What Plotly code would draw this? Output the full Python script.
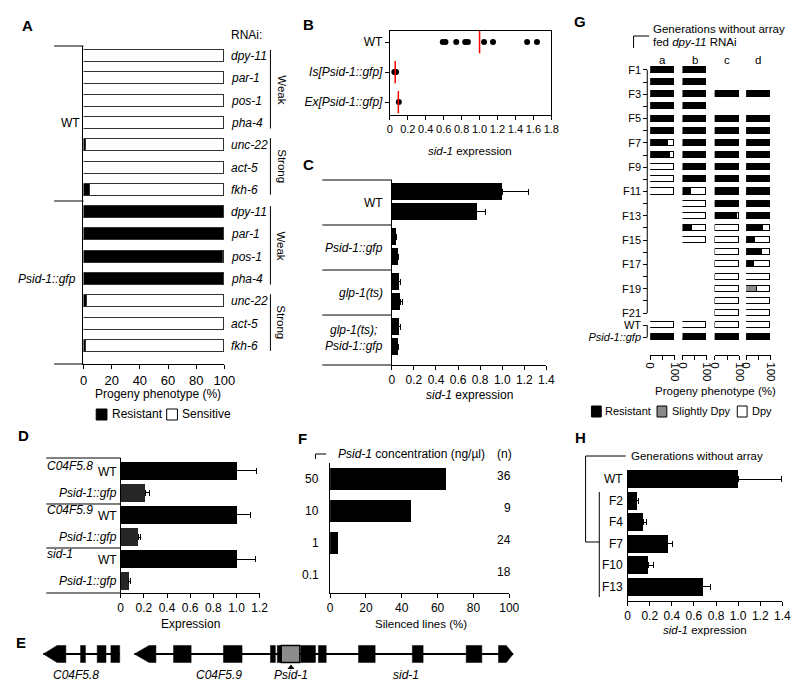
import plotly.graph_objects as go

W, H = 800, 683
def fx(px): return px / W
def fy(py): return 1 - py / H

FONT = "Liberation Sans, Arial, Helvetica, sans-serif"
FS = 11.5

# ---------------- DATA ----------------
# Panel A: progeny phenotype (%)
a_rnai = ["dpy-11", "par-1", "pos-1", "pha-4", "unc-22", "act-5", "fkh-6"]
a_strains = ["WT", "Psid-1::gfp"]
a_resistant_wt = [0, 0, 0, 0, 2, 0, 5]
a_sensitive_wt = [100, 100, 100, 100, 98, 100, 95]
a_resistant_gfp = [100, 100, 99, 100, 2.5, 0, 2]
a_sensitive_gfp = [0, 0, 1, 0, 97.5, 100, 98]
a_ticks = [0, 20, 40, 60, 80, 100]

# Panel B: sid-1 expression, individual points
b_strains = ["WT", "<i>Is[Psid-1::gfp]</i>", "<i>Ex[Psid-1::gfp]</i>"]
b_wt = [0.59, 0.62, 0.74, 0.84, 0.87, 1.05, 1.15, 1.53, 1.64]
b_is = [0.05, 0.07]
b_ex = [0.10]
b_means = [1.0, 0.06, 0.095]
b_ticks = [0, 0.2, 0.4, 0.6, 0.8, 1.0, 1.2, 1.4, 1.6, 1.8]
b_ticklabels = ["0", "0.2", "0.4", "0.6", "0.8", "1.0", "1.2", "1.4", "1.6", "1.8"]

# Panel C
c_groups = ["WT", "<i>Psid-1::gfp</i>", "<i>glp-1(ts)</i>", "<i>glp-1(ts);</i><br><i>Psid-1::gfp</i>"]
c_rep1 = [1.0, 0.04, 0.065, 0.065]
c_rep1_err = [0.24, 0.006, 0.012, 0.01]
c_rep2 = [0.77, 0.05, 0.075, 0.05]
c_rep2_err = [0.08, 0.01, 0.02, 0.012]
c_ticks = [0, 0.2, 0.4, 0.6, 0.8, 1.0, 1.2, 1.4]
c_ticklabels = ["0", "0.2", "0.4", "0.6", "0.8", "1.0", "1.2", "1.4"]

# Panel D
d_genes = ["C04F5.8", "C04F5.9", "sid-1"]
d_wt = [1.0, 1.0, 1.0]
d_wt_err = [0.17, 0.12, 0.16]
d_gfp = [0.21, 0.15, 0.07]
d_gfp_err = [0.035, 0.02, 0.015]
d_ticks = [0, 0.2, 0.4, 0.6, 0.8, 1.0, 1.2]
d_ticklabels = ["0", "0.2", "0.4", "0.6", "0.8", "1.0", "1.2"]

# Panel E: gene model (kb)
e_line_segments = [(0.0, 3.9), (4.65, 24.0)]
e_exons = [(1.9, 2.15), (2.75, 3.2), (3.45, 3.9),
           (6.65, 7.55), (9.2, 10.15), (11.6, 11.85), (11.95, 12.15),
           (13.15, 13.9), (14.05, 14.45), (16.1, 16.95), (18.85, 19.4), (21.6, 22.4)]
e_left_arrows = [(0.0, 0.7, 1.15), (4.65, 5.4, 5.75)]
e_right_arrows = [(23.25, 23.65, 24.0)]
e_promoter = (12.15, 13.1)
e_promoter_mark = 12.65
e_labels = ["C04F5.8", "C04F5.9", "Psid-1", "sid-1"]
e_label_pos = [1.65, 8.95, 12.65, 18.5]

# Panel F
f_conc = ["50", "10", "1", "0.1"]
f_silenced = [65, 45, 4.5, 0]
f_n = [36, 9, 24, 18]
f_ticks = [0, 20, 40, 60, 80, 100]

# Panel G: progeny phenotype per generation (resistant, slightly dpy, dpy %)
g_rows = ["F1", "F2", "F3", "F4", "F5", "F6", "F7", "F8", "F9", "F10", "F11", "F12",
          "F13", "F14", "F15", "F16", "F17", "F18", "F19", "F20", "F21", "WT", "Psid-1::gfp"]
g_cols = ["a", "b", "c", "d"]
N = None
g_res = {
    "a": [100, 100, 100, 100, 100, 100, 72, 80, 0, 0, 0, N, N, N, N, N, N, N, N, N, N, 0, 100],
    "b": [100, 100, 100, 100, 100, 100, 100, 100, 100, 100, 37, 0, 0, 42, 0, N, N, N, N, N, N, 0, 100],
    "c": [N, N, 100, N, 100, 100, 100, 100, 100, 100, 100, 100, 90, 0, 0, 0, 0, 0, 0, 0, 0, 0, 100],
    "d": [N, N, 100, N, 100, 100, 100, 100, 100, 100, 100, 100, 100, 70, 38, 66, 34, 0, 0, 0, 0, 0, 100],
}
g_slight = {
    "a": [0, 0, 0, 0, 0, 0, 0, 0, 0, 0, 0, N, N, N, N, N, N, N, N, N, N, 0, 0],
    "b": [0, 0, 0, 0, 0, 0, 0, 0, 0, 0, 0, 0, 0, 0, 0, N, N, N, N, N, N, 0, 0],
    "c": [N, N, 0, N, 0, 0, 0, 0, 0, 0, 0, 0, 0, 0, 0, 0, 0, 0, 0, 0, 0, 0, 0],
    "d": [N, N, 0, N, 0, 0, 0, 0, 0, 0, 0, 0, 0, 0, 0, 0, 0, 0, 45, 0, 0, 0, 0],
}
g_dpy = {
    "a": [0, 0, 0, 0, 0, 0, 28, 20, 100, 100, 100, N, N, N, N, N, N, N, N, N, N, 100, 0],
    "b": [0, 0, 0, 0, 0, 0, 0, 0, 0, 0, 63, 100, 100, 58, 100, N, N, N, N, N, N, 100, 0],
    "c": [N, N, 0, N, 0, 0, 0, 0, 0, 0, 0, 0, 10, 100, 100, 100, 100, 100, 100, 100, 100, 100, 0],
    "d": [N, N, 0, N, 0, 0, 0, 0, 0, 0, 0, 0, 0, 30, 62, 34, 66, 100, 55, 100, 100, 100, 0],
}

# Panel H
h_gens = ["WT", "F2", "F4", "F7", "F10", "F13"]
h_vals = [1.0, 0.08, 0.14, 0.36, 0.185, 0.68]
h_err = [0.39, 0.02, 0.03, 0.045, 0.05, 0.07]
h_ticks = [0, 0.2, 0.4, 0.6, 0.8, 1.0, 1.2, 1.4]
h_ticklabels = ["0", "0.2", "0.4", "0.6", "0.8", "1.0", "1.2", "1.4"]

# ---------------- FIGURE ----------------
fig = go.Figure()
annotations = []
shapes = []

def ann(text, x, y, xanchor="center", yanchor="middle", size=FS, xref="paper", yref="paper", angle=0):
    annotations.append(dict(text=text, x=x, y=y, xref=xref, yref=yref, xanchor=xanchor,
                            yanchor=yanchor, showarrow=False, textangle=angle, borderpad=0,
                            font=dict(family=FONT, size=size, color="black")))

def seg(x0, y0, x1, y1, xref="paper", yref="paper", width=1, color="black"):
    shapes.append(dict(type="line", x0=x0, y0=y0, x1=x1, y1=y1, xref=xref, yref=yref,
                       line=dict(color=color, width=width)))

def rect(x0, y0, x1, y1, fill, xref="paper", yref="paper", lw=1):
    shapes.append(dict(type="rect", x0=x0, y0=y0, x1=x1, y1=y1, xref=xref, yref=yref,
                       fillcolor=fill, line=dict(color="black", width=lw)))

def tf(size=12):
    return dict(family=FONT, size=size, color="black")

base_ax = dict(showgrid=False, zeroline=False, showline=True, linecolor="black", linewidth=1,
               ticks="outside", ticklen=4, tickwidth=1, tickcolor="black", tickfont=tf(12),
               tickangle=0, fixedrange=True)
hidden_y = dict(showgrid=False, zeroline=False, showline=True, linecolor="black", linewidth=1,
                ticks="", showticklabels=False, fixedrange=True)

def letter(t, px, py):
    ann("<b>%s</b>" % t, fx(px), fy(py), size=15)

layout_axes = {}

# ===== Panel A =====
ya = list(range(2 * len(a_rnai)))
res = a_resistant_wt + a_resistant_gfp
sen = a_sensitive_wt + a_sensitive_gfp
fig.add_trace(go.Bar(x=res, y=ya, orientation="h", width=0.54, xaxis="x", yaxis="y",
                     marker=dict(color="black", line=dict(color="#333", width=1))))
fig.add_trace(go.Bar(x=sen, y=ya, orientation="h", width=0.54, xaxis="x", yaxis="y",
                     marker=dict(color="white", line=dict(color="#333", width=1))))
layout_axes["xaxis"] = dict(base_ax, domain=[fx(71), fx(215)], range=[0, 100], tickvals=a_ticks,
                            anchor="y", tickfont=tf(13))
layout_axes["yaxis"] = dict(hidden_y, domain=[fy(356), fy(38)], range=[13.81, -0.45], anchor="x")
for i, name in enumerate(a_rnai * 2):
    ann("<i>%s</i>" % name, fx(221), i, xanchor="left", yref="y", size=12)
ann(a_strains[0], fx(68), 3, xanchor="right", yref="y", size=12)
ann("<i>%s</i>" % a_strains[1], fx(64), 10, xanchor="right", yref="y", size=12)
for off in (0, 7):
    seg(fx(262), off - 0.27, fx(262), off + 3.25, yref="y")
    ann("Weak", fx(273), off + 1.5, angle=90, yref="y")
    seg(fx(262), off + 3.68, fx(262), off + 6.22, yref="y")
    ann("Strong", fx(273), off + 4.95, angle=90, yref="y")
seg(fx(41), fy(38), fx(71), fy(38))
seg(fx(41), 6.5, fx(71), 6.5, yref="y")
seg(fx(41), fy(356), fx(71), fy(356))
ann("RNAi:", fx(238), fy(27), size=12)
letter("A", 14, 17)
ann("Progeny phenotype (%)", fx(147), fy(386), size=12)
rect(fx(84), fy(412), fx(95), fy(401), "black")
ann("Resistant", fx(99), fy(406), xanchor="left", size=12)
rect(fx(156), fy(412), fx(167), fy(401), "white")
ann("Sensitive", fx(171), fy(406), xanchor="left", size=12)

# ===== Panel B =====
fig.add_trace(go.Scatter(x=b_wt, y=[0] * len(b_wt), mode="markers", xaxis="x2", yaxis="y2",
                         marker=dict(size=6, color="black")))
fig.add_trace(go.Scatter(x=b_is, y=[1] * len(b_is), mode="markers", xaxis="x2", yaxis="y2",
                         marker=dict(size=6, color="black")))
fig.add_trace(go.Scatter(x=b_ex, y=[2] * len(b_ex), mode="markers", xaxis="x2", yaxis="y2",
                         marker=dict(size=6, color="black")))
fig.add_trace(go.Scatter(x=b_means, y=[0, 1, 2], mode="markers", xaxis="x2", yaxis="y2",
                         marker=dict(symbol="line-ns", size=16, color="red",
                                     line=dict(color="red", width=1.5))))
layout_axes["xaxis2"] = dict(base_ax, domain=[fx(384), fx(549)], range=[0, 1.8], tickvals=b_ticks,
                             ticktext=b_ticklabels, anchor="y2", mirror=True, tickfont=tf(11))
layout_axes["yaxis2"] = dict(base_ax, domain=[fy(107), fy(23)], range=[2.43, -0.37], tickvals=[0, 1, 2],
                             ticktext=b_strains, anchor="x2", mirror=True)
letter("B", 301, 16)
ann("<i>sid-1</i> expression", fx(466), fy(143))

# ===== Panel C =====
cg = list(range(len(c_groups)))
fig.add_trace(go.Bar(x=c_rep1, y=[g + 0.26 for g in cg], orientation="h", width=0.38,
                     xaxis="x3", yaxis="y3", marker=dict(color="black", line=dict(width=0)),
                     error_x=dict(type="data", array=c_rep1_err, arrayminus=[0] * 4, symmetric=False,
                                  color="black", thickness=1, width=3)))
fig.add_trace(go.Bar(x=c_rep2, y=[g + 0.70 for g in cg], orientation="h", width=0.38,
                     xaxis="x3", yaxis="y3", marker=dict(color="black", line=dict(width=0)),
                     error_x=dict(type="data", array=c_rep2_err, arrayminus=[0] * 4, symmetric=False,
                                  color="black", thickness=1, width=3)))
layout_axes["xaxis3"] = dict(base_ax, domain=[fx(386), fx(544)], range=[0, 1.4], tickvals=c_ticks,
                             ticktext=c_ticklabels, anchor="y3")
layout_axes["yaxis3"] = dict(hidden_y, domain=[fy(357), fy(172)], range=[4.11, 0], anchor="x3")
seg(fx(315), fy(172), fx(386), fy(172))
for g in (1, 2, 3):
    seg(fx(315), g, fx(386), g, yref="y3")
seg(fx(315), fy(357), fx(386), fy(357))
for g, lab in enumerate(c_groups):
    ann(lab, fx(378), g + 0.52, xanchor="right", yref="y3", size=12)
letter("C", 301, 156)
ann("<i>sid-1</i> expression", fx(465), fy(387), size=12)

# ===== Panel D =====
dg = list(range(len(d_genes)))
fig.add_trace(go.Bar(x=d_wt, y=[2 * g for g in dg], orientation="h", width=0.82,
                     xaxis="x4", yaxis="y4", marker=dict(color="black", line=dict(width=0)),
                     error_x=dict(type="data", array=d_wt_err, arrayminus=[0] * 3, symmetric=False,
                                  color="black", thickness=1, width=3)))
fig.add_trace(go.Bar(x=d_gfp, y=[2 * g + 1 for g in dg], orientation="h", width=0.82,
                     xaxis="x4", yaxis="y4", marker=dict(color="#262626", line=dict(width=0)),
                     error_x=dict(type="data", array=d_gfp_err, arrayminus=[0] * 3, symmetric=False,
                                  color="black", thickness=1, width=3)))
layout_axes["xaxis4"] = dict(base_ax, domain=[fx(109), fx(251)], range=[0, 1.2], tickvals=d_ticks,
                             ticktext=d_ticklabels, anchor="y4")
layout_axes["yaxis4"] = dict(hidden_y, domain=[fy(585), fy(450)], range=[5.545, -0.59], anchor="x4")
seg(fx(33), fy(450), fx(109), fy(450))
for s in (1.5, 3.5):
    seg(fx(33), s, fx(109), s, yref="y4")
seg(fx(33), fy(585), fx(109), fy(585))
for g, gene in enumerate(d_genes):
    ann("<i>%s</i>" % gene, fx(33), 2 * g - 0.22, xanchor="left", yref="y4", size=12)
    ann("WT", fx(106), 2 * g + 0.05, xanchor="right", yref="y4", size=12)
    ann("<i>Psid-1::gfp</i>", fx(106), 2 * g + 1, xanchor="right", yref="y4", size=12)
letter("D", 10, 427)
ann("Expression", fx(180), fy(616), size=12)

# ===== Panel E =====
layout_axes["xaxis11"] = dict(visible=False, domain=[0, 1], range=[-1.5, 38.5], anchor="y11", fixedrange=True)
layout_axes["yaxis11"] = dict(visible=False, domain=[fy(663), fy(629)], range=[-1, 1], anchor="x11", fixedrange=True)
for a0, a1 in e_line_segments:
    seg(a0, 0, a1, 0, xref="x11", yref="y11", width=2)
for a0, a1 in e_exons:
    rect(a0, -0.5, a1, 0.5, "black", xref="x11", yref="y11", lw=0.5)
for tip, sh, end in e_left_arrows:
    shapes.append(dict(type="path", xref="x11", yref="y11", fillcolor="black", line=dict(color="black", width=0.5),
                       path="M %g,0 L %g,0.5 L %g,0.5 L %g,-0.5 L %g,-0.5 Z" % (tip, sh, end, end, sh)))
for start, sh, tip in e_right_arrows:
    shapes.append(dict(type="path", xref="x11", yref="y11", fillcolor="black", line=dict(color="black", width=0.5),
                       path="M %g,0.5 L %g,0.5 L %g,0 L %g,-0.5 L %g,-0.5 Z" % (start, sh, tip, sh, start)))
rect(e_promoter[0], -0.5, e_promoter[1], 0.5, "#8c8c8c", xref="x11", yref="y11", lw=1.5)
fig.add_trace(go.Scatter(x=[e_promoter_mark], y=[-0.8], mode="markers", xaxis="x11", yaxis="y11",
                         marker=dict(symbol="triangle-up", size=6, color="black")))
for lab, pos in zip(e_labels, e_label_pos):
    ann("<i>%s</i>" % lab, pos, fy(667), xref="x11", size=12)
letter("E", 7, 634)

# ===== Panel F =====
fy_idx = list(range(len(f_conc)))
fig.add_trace(go.Bar(x=f_silenced, y=fy_idx, orientation="h", width=0.66, xaxis="x5", yaxis="y5",
                     marker=dict(color="black", line=dict(width=0))))
layout_axes["xaxis5"] = dict(base_ax, domain=[fx(323), fx(506)], range=[0, 100], tickvals=f_ticks, anchor="y5")
layout_axes["yaxis5"] = dict(hidden_y, domain=[fy(585), fy(455)], range=[3.5625, -0.5], anchor="x5")
for i, (c, n) in enumerate(zip(f_conc, f_n)):
    ann(c, fx(313), i, xanchor="right", yref="y5", size=12)
    ann(str(n), fx(509), i - 0.1, xanchor="right", yref="y5", size=12)
shapes.append(dict(type="path", xref="paper", yref="paper", line=dict(color="black", width=1),
                   path="M %f,%f L %f,%f L %f,%f" % (fx(308), fy(451), fx(308), fy(446), fx(319), fy(446))))
ann("<i>Psid-1</i> concentration (ng/µl)", fx(330), fy(446), xanchor="left", size=12)
ann("(n)", fx(501), fy(446), size=12)
letter("F", 295, 430)
ann("Silenced lines (%)", fx(416), fy(616))

# ===== Panel G =====
g_domains = {"a": (650, 675), "b": (683, 708), "c": (716, 741), "d": (748, 773)}
g_y = list(range(len(g_rows)))
g_ticktext = []
for i, r in enumerate(g_rows):
    if i < 21:
        g_ticktext.append(r if i % 2 == 0 else "")
    elif r == "WT":
        g_ticktext.append(r)
    else:
        g_ticktext.append("<i>%s</i>" % r)
for k, col in enumerate(g_cols):
    xa = "x%d" % (7 + k)
    for vals, color in ((g_res[col], "black"), (g_slight[col], "#8a8a8a"), (g_dpy[col], "white")):
        fig.add_trace(go.Bar(x=vals, y=g_y, orientation="h", width=0.5, xaxis=xa, yaxis="y7",
                             marker=dict(color=color, line=dict(color="black", width=1))))
    d0, d1 = g_domains[col]
    layout_axes["xaxis%d" % (7 + k)] = dict(base_ax, domain=[fx(d0), fx(d1)], range=[0, 100],
                                            tickvals=[0, 50, 100], ticktext=["0", "", "100"],
                                            tickangle=90, anchor="free", position=fy(347), tickfont=tf(11.5))
    ann(col, fx((d0 + d1) / 2), fy(52))
layout_axes["yaxis7"] = dict(base_ax, showline=False, domain=[fy(336), fy(56)], range=[22.55, -0.49],
                             tickvals=g_y, ticktext=g_ticktext, anchor="free", position=fx(647),
                             tickfont=tf(11))
seg(fx(647), 0, fx(647), 20, yref="y7")
seg(fx(647), 21, fx(647), 22, yref="y7")
letter("G", 578, 13)
ann("Generations without array", fx(652), fy(21), xanchor="left")
ann("fed <i>dpy-11</i> RNAi", fx(652), fy(34), xanchor="left")
shapes.append(dict(type="path", xref="paper", yref="paper", line=dict(color="black", width=1),
                   path="M %f,%f L %f,%f L %f,%f" % (fx(633), fy(40), fx(633), fy(28), fx(649), fy(28))))
ann("Progeny phenotype (%)", fx(717), fy(383))
rect(fx(590), fy(409), fx(600), fy(398), "black")
ann("Resistant", fx(603), fy(403), xanchor="left", size=11)
rect(fx(657), fy(409), fx(667), fy(398), "#8a8a8a")
ann("Slightly Dpy", fx(671), fy(403), xanchor="left", size=11)
rect(fx(739), fy(409), fx(749), fy(398), "white")
ann("Dpy", fx(753), fy(403), xanchor="left", size=11)

# ===== Panel H =====
hy = list(range(len(h_gens)))
fig.add_trace(go.Bar(x=h_vals, y=hy, orientation="h", width=0.83, xaxis="x6", yaxis="y6",
                     marker=dict(color="black", line=dict(width=0)),
                     error_x=dict(type="data", array=h_err, arrayminus=[0] * 6, symmetric=False,
                                  color="black", thickness=1, width=3)))
layout_axes["xaxis6"] = dict(base_ax, domain=[fx(627), fx(785)], range=[0, 1.4], tickvals=h_ticks,
                             ticktext=h_ticklabels, anchor="y6")
layout_axes["yaxis6"] = dict(hidden_y, domain=[fy(593), fy(462)], range=[5.65, -0.42], anchor="x6")
for i, g in enumerate(h_gens):
    ann(g, fx(623), i, xanchor="right", yref="y6", size=12)
seg(fx(584), fy(448), fx(625), fy(448))
seg(fx(584), fy(448), fx(584), fy(534))
seg(fx(584), fy(534), fx(598), fy(534))
seg(fx(598), fy(484), fx(598), fy(589))
letter("H", 579, 429)
ann("Generations without array", fx(629), fy(448), xanchor="left")
ann("<i>sid-1</i> expression", fx(706), fy(622))

fig.update_layout(width=W, height=H, margin=dict(l=0, r=0, t=0, b=0), paper_bgcolor="white",
                  plot_bgcolor="white", showlegend=False, barmode="stack", bargap=0,
                  font=dict(family=FONT, size=FS, color="black"),
                  annotations=annotations, shapes=shapes, **layout_axes)
fig.write_html("out.html")
